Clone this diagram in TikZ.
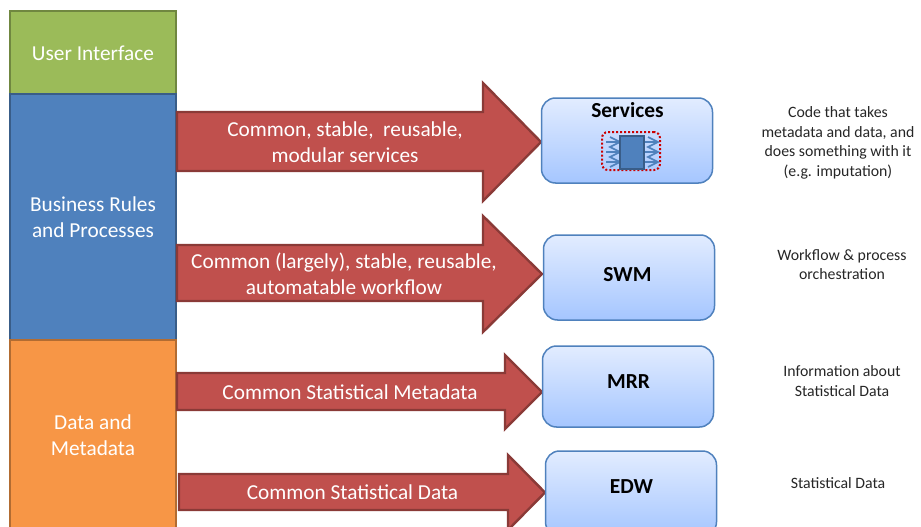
\documentclass[tikz,border=0pt]{standalone}
\usepackage{fontspec}
\setmainfont{Carlito}
\usepackage{tikz}
\usetikzlibrary{arrows.meta}
\definecolor{uigreen}{HTML}{9BBB59}
\definecolor{rulesblue}{HTML}{4F81BD}
\definecolor{dataorange}{HTML}{F79646}
\definecolor{arrowred}{HTML}{C0504D}
\definecolor{systemtop}{HTML}{E2ECFF}
\definecolor{systembottom}{HTML}{A5C6FF}
\tikzset{tier/.style={draw=#1!72!black, fill=#1, line width=2.4, minimum width=166, outer sep=0, align=center, text=white, font=\fontsize{21.4}{26}\selectfont}}
\tikzset{blockarrow/.style={draw=arrowred!72!black, fill=arrowred, line width=2.4, line join=miter}}
\tikzset{arrowtext/.style={align=center, text=white, font=\fontsize{21.3}{26}\selectfont}}
\tikzset{system/.style={draw=rulesblue, line width=1.5, rounded corners=14, top color=systemtop, bottom color=systembottom, minimum width=171, outer sep=0}}
\tikzset{systemtext/.style={font=\fontsize{21.4}{25}\bfseries\selectfont}}
\tikzset{note/.style={align=center, text=black!85, font=\fontsize{15.8}{19.5}\selectfont}}
\begin{document}
\begin{tikzpicture}[x=1pt, y=-1pt]
    \useasboundingbox (0, 0) rectangle (921, 527);
    \clip (0, 0) rectangle (921, 527);
    \node[tier=uigreen, minimum height=83] (interface) at (93, 52.5) {};
    \node[arrowtext] (interfacetext) at (93, 53.5) {User Interface};
    \node[tier=rulesblue, minimum height=246] (rules) at (93, 217) {};
    \node[arrowtext] (rulestext) at (93, 217) {Business Rules\\and Processes};
    \node[tier=dataorange, minimum height=200] (data) at (93, 440) {};
    \node[arrowtext] (datatext) at (93, 435) {Data and\\Metadata};
    % tail, shaft top, shaft bottom, head base, head top, head bottom, tip
    \foreach \tail/\top/\bottom/\base/\headtop/\headbottom/\tip in {
        177/112/171/483/83/201/541,
        177/245/301/483/216/332/542,
        177/373/410/505/355/429/542,
        179/474/510/508/455/530/545} {
        \draw[blockarrow] (\tail, \top) -- (\base, \top) -- (\base, \headtop)
            -- (\tip, {(\headtop + \headbottom) / 2}) -- (\base, \headbottom)
            -- (\base, \bottom) -- (\tail, \bottom) -- cycle;
    }
    \node[arrowtext] (stable) at (345, 142) {Common, stable,\ \ reusable,\\modular services};
    \node[arrowtext] (workflow) at (344, 274) {Common (largely), stable, reusable,\\automatable workflow};
    \node[arrowtext] (metadata) at (350, 392) {Common Statistical Metadata};
    \node[arrowtext] (statdata) at (352.5, 492) {Common Statistical Data};
    \node[system, minimum height=85] (services) at (627, 140.5) {};
    \node[systemtext] (servicestext) at (627.5, 110.5) {Services};
    \node[system, minimum height=85] (swm) at (629, 277.5) {};
    \node[systemtext] (swmtext) at (627.5, 274.5) {SWM};
    \node[system, minimum height=81] (mrr) at (628, 386.5) {};
    \node[systemtext] (mrrtext) at (628.5, 381.5) {MRR};
    \node[system, minimum height=85] (edw) at (631, 493.5) {};
    \node[systemtext] (edwtext) at (631.5, 486.5) {EDW};
    % service icon
    \node[draw=red!80!black, dotted, line width=2, rounded corners=6, minimum width=58, minimum height=38] (icon) at (631, 151) {};
    \foreach \y in {142, 152, 162} {
        \draw[rulesblue, line width=1.7] (606, \y) -- (620, \y);
        \draw[rulesblue, line width=1.7] (644, \y) -- (658, \y);
    }
    \draw[rulesblue, line width=1.7] (610, 137) -- (620, 142) -- (610, 147) -- (620, 152) -- (610, 157) -- (620, 162) -- (610, 167);
    \draw[rulesblue, line width=1.7] (648, 137) -- (658, 142) -- (648, 147) -- (658, 152) -- (648, 157) -- (658, 162) -- (648, 167);
    \node[draw=rulesblue!72!black, fill=rulesblue, line width=1.8, minimum width=24, minimum height=33] (iconbox) at (632, 152.5) {};
    \node[note] (codenote) at (838, 143) {Code that takes\\metadata and data, and\\does something with it\\(e.g. imputation)};
    \node[note] (swmnote) at (842, 264.5) {Workflow \& process\\orchestration};
    \node[note] (mrrnote) at (842, 381) {Information about\\Statistical Data};
    \node[note] (edwnote) at (838, 483.5) {Statistical Data};
\end{tikzpicture}
\end{document}
